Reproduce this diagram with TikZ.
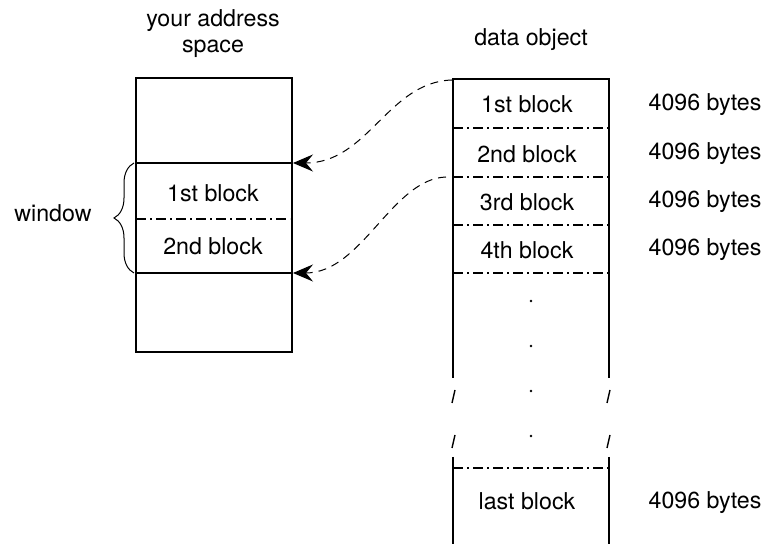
\documentclass[tikz,border=0pt]{standalone}
\usepackage{fontspec}
\setmainfont{TeX Gyre Heros}
\usetikzlibrary{arrows.meta,decorations.pathreplacing}

\begin{document}
\begin{tikzpicture}[x=0.5pt,y=-0.5pt,
    font=\fontsize{11.6}{13}\selectfont,
    frame/.style={line width=0.7pt},
    divide/.style={line width=0.6pt,dash pattern=on 5pt off 2pt on 1pt off 2pt},
    link/.style={line width=0.5pt,dash pattern=on 4pt off 3pt,
      -{Stealth[length=10pt,width=8.5pt,inset=3.5pt]}},
    lbl/.style={anchor=base,inner sep=0pt}]
    \useasboundingbox (0,0) rectangle (768,544);
    % address space
    \node[lbl] (title1) at (213,27) {your address};
    \node[lbl] (title2) at (213,53) {space};
    \draw[frame] (136,78) rectangle (292,352);
    \draw[frame] (136,163) -- (292,163);
    \draw[frame] (136,273) -- (292,273);
    \draw[divide] (136,219) -- (290,219);
    \node[lbl] (win1) at (213,202) {1st block};
    \node[lbl] (win2) at (213,255) {2nd block};
    \draw[line width=0.5pt,decorate,decoration={brace,amplitude=10pt}] (134,273) -- (134,163);
    \node[lbl] (window) at (53,222) {window};
    % data object
    \node[lbl] (title3) at (531,46) {data object};
    \draw[frame] (453,378) -- (453,79) -- (609,79) -- (609,378);
    \draw[frame] (453,457) -- (453,544);
    \draw[frame] (609,457) -- (609,544);
    \foreach \y in {128,177,225,273,468}
      \draw[divide] (453,\y) -- (609,\y);
    \foreach \x in {453,608}{
      \draw[frame] (\x-1,403) -- (\x+2,390);
      \draw[frame] (\x-1,448) -- (\x+2,435);
    }
    \foreach \y in {301,346,391,436}
      \fill (531,\y) circle (1.3);
    \node[lbl] (blk1) at (527,113) {1st block};
    \node[lbl] (blk2) at (527,163) {2nd block};
    \node[lbl] (blk3) at (527,211) {3rd block};
    \node[lbl] (blk4) at (527,259) {4th block};
    \node[lbl] (blkn) at (527,510) {last block};
    \node[lbl] (size1) at (705,111) {4096 bytes};
    \node[lbl] (size2) at (705,160) {4096 bytes};
    \node[lbl] (size3) at (705,208) {4096 bytes};
    \node[lbl] (size4) at (705,256) {4096 bytes};
    \node[lbl] (sizen) at (705,509) {4096 bytes};
    % mapping
    \coordinate (from1) at (452,80);
    \coordinate (from2) at (446,177);
    \coordinate (to1) at (293,163);
    \coordinate (to2) at (293,273);
    \draw[link] (from1) .. controls (388,82) and (368,163) .. (to1);
    \draw[link] (from2) .. controls (392,179) and (362,273) .. (to2);
\end{tikzpicture}
\end{document}
